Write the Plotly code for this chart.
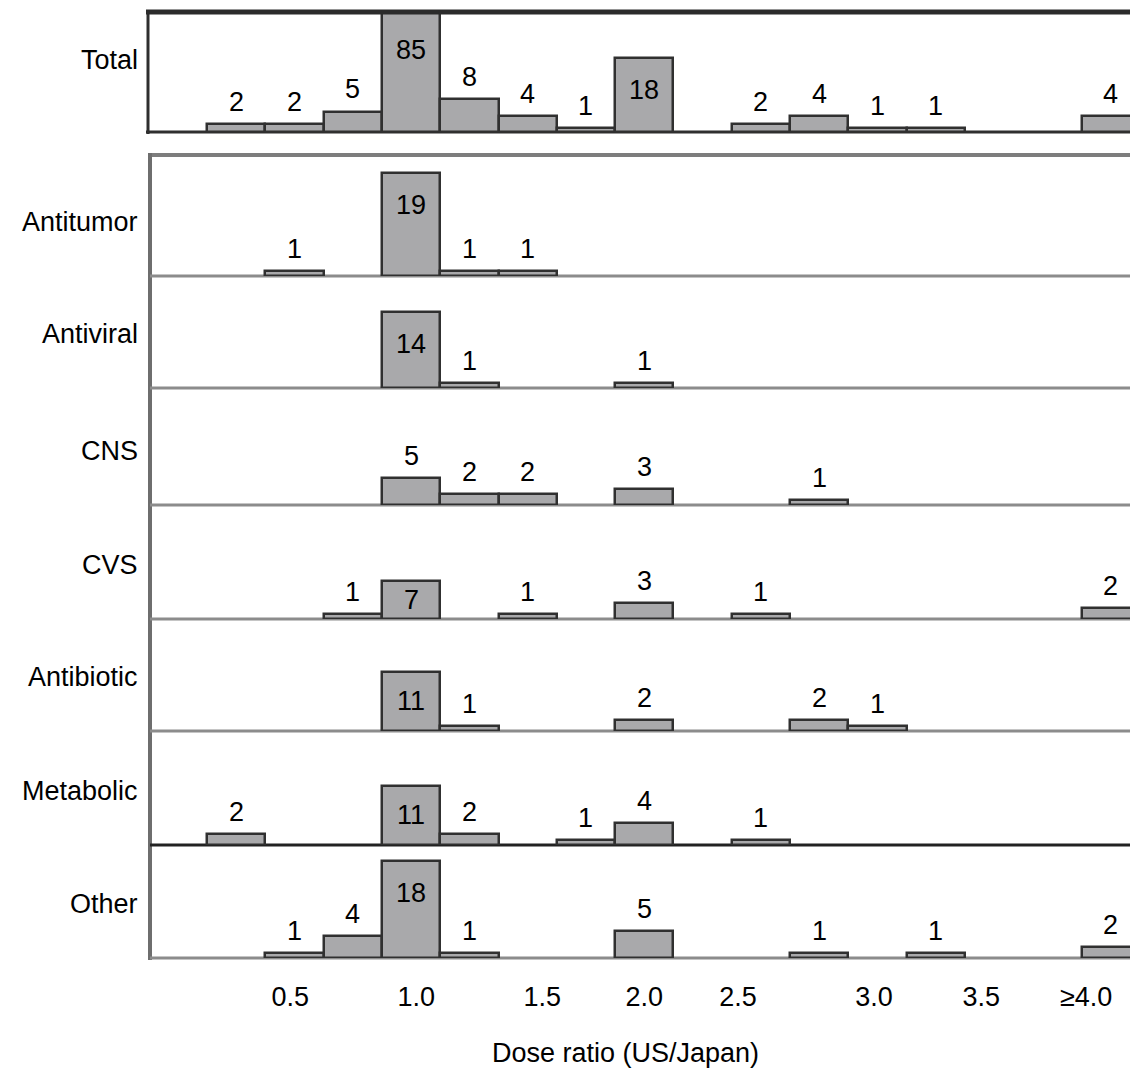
import plotly.graph_objects as go

# ---------------- data ----------------
bin_index = list(range(16))
tick_positions = [0.93, 3.09, 5.25, 7.0, 8.61, 10.94, 12.78, 14.58]
tick_labels = ["0.5", "1.0", "1.5", "2.0", "2.5", "3.0", "3.5", "≥4.0"]

panel_names = ["Total", "Antitumor", "Antiviral", "CNS", "CVS",
               "Antibiotic", "Metabolic", "Other"]
total      = [2, 2, 5, 85, 8, 4, 1, 18, 0, 2, 4, 1, 1, 0, 0, 4]
antitumor  = [0, 1, 0, 19, 1, 1, 0, 0, 0, 0, 0, 0, 0, 0, 0, 0]
antiviral  = [0, 0, 0, 14, 1, 0, 0, 1, 0, 0, 0, 0, 0, 0, 0, 0]
cns        = [0, 0, 0, 5, 2, 2, 0, 3, 0, 0, 1, 0, 0, 0, 0, 0]
cvs        = [0, 0, 1, 7, 0, 1, 0, 3, 0, 1, 0, 0, 0, 0, 0, 2]
antibiotic = [0, 0, 0, 11, 1, 0, 0, 2, 0, 0, 2, 1, 0, 0, 0, 0]
metabolic  = [2, 0, 0, 11, 2, 0, 1, 4, 0, 1, 0, 0, 0, 0, 0, 0]
other      = [0, 1, 4, 18, 1, 0, 0, 5, 0, 0, 1, 0, 1, 0, 0, 2]
series = [total, antitumor, antiviral, cns, cvs, antibiotic, metabolic, other]

# ---------------- layout constants ----------------
W, H = 1130, 1071
L = 150
panel_px = [(12, 132), (155, 276), (276, 388), (388, 505), (505, 619),
            (619, 731), (731, 845), (845, 958)]
px_per_unit = [4.1] + [5.4] * 7
bin_px = 58.3
bin0_center_px = 236.15
x_range = [(L - bin0_center_px) / bin_px, (W - bin0_center_px) / bin_px]

FONT = "Liberation Sans, Arial, Helvetica, sans-serif"
FS = 27
FILL = "#a9a9ab"
EDGE = "#303030"


def py(p):
    return 1 - p / H


def pxx(p):
    return (p - L) / (W - L)


fig = go.Figure()
layout = dict(
    width=W, height=H,
    margin=dict(l=L, r=0, t=0, b=0),
    paper_bgcolor="white", plot_bgcolor="rgba(0,0,0,0)",
    showlegend=False, bargap=0,
    font=dict(family=FONT, size=FS, color="black"),
)

annotations = []
shapes = []

for k, (name, vals) in enumerate(zip(panel_names, series)):
    top, bot = panel_px[k]
    ymax = (bot - top) / px_per_unit[k]
    yname = "yaxis" if k == 0 else f"yaxis{k + 1}"
    yref = "y" if k == 0 else f"y{k + 1}"
    layout[yname] = dict(domain=[py(bot), py(top)], range=[0, ymax],
                         showgrid=False, zeroline=False, showline=False,
                         showticklabels=False, ticks="", fixedrange=True)
    xs = [i for i, v in zip(bin_index, vals) if v > 0]
    ys = [v for v in vals if v > 0]
    fig.add_trace(go.Bar(
        x=xs, y=ys, width=1, xaxis="x", yaxis=yref,
        marker=dict(color=FILL, line=dict(color=EDGE, width=2.5)),
        hoverinfo="x+y",
    ))
    # count labels
    for x, v in zip(xs, ys):
        inside = v / ymax > 0.3
        if inside:
            bar_px = min(v, ymax) * px_per_unit[k]
            shift = 38 if v > ymax else min(32, bar_px / 2)
            annotations.append(dict(
                x=x, y=min(v, ymax), xref="x", yref=yref, text=str(v),
                showarrow=False, yanchor="middle", yshift=-shift,
                font=dict(family=FONT, size=FS, color="black")))
        else:
            annotations.append(dict(
                x=x, y=v, xref="x", yref=yref, text=str(v),
                showarrow=False, yanchor="middle", yshift=22,
                font=dict(family=FONT, size=FS, color="black")))
    # category label
    annotations.append(dict(
        x=pxx(140), xref="paper", xanchor="right",
        y=0, yref=f"{yref} domain", yanchor="middle",
        yshift=72 if k == 0 else 54,
        text=name, showarrow=False,
        font=dict(family=FONT, size=FS, color="black")))

layout["xaxis"] = dict(
    domain=[0, 1], range=x_range, anchor="y8",
    showgrid=False, zeroline=False, showline=False,
    tickmode="array", tickvals=tick_positions, ticktext=tick_labels,
    ticks="outside", ticklen=15, tickcolor="rgba(0,0,0,0)",
    tickfont=dict(family=FONT, size=FS, color="black"), fixedrange=True,
)

annotations.append(dict(
    x=pxx(625), y=py(1053), xref="paper", yref="paper",
    text="Dose ratio (US/Japan)", showarrow=False,
    xanchor="center", yanchor="middle",
    font=dict(family=FONT, size=FS, color="black")))


def hline(p, x0, x1, color, width, layer="below"):
    shapes.append(dict(type="line", xref="paper", yref="paper",
                       x0=pxx(x0), x1=pxx(x1), y0=py(p), y1=py(p),
                       line=dict(color=color, width=width), layer=layer))


def vline(p, y0, y1, color, width, layer="below"):
    shapes.append(dict(type="line", xref="paper", yref="paper",
                       x0=pxx(p), x1=pxx(p), y0=py(y0), y1=py(y1),
                       line=dict(color=color, width=width), layer=layer))


# Total panel frame
hline(12, 146, W, "#2b2b2b", 5, layer="above")
hline(132, 146, W, "#2f2f2f", 3)
vline(148, 10, 134, "#2f2f2f", 3)
# category block frame
hline(155, 148, W, "#7d7d7d", 4)
vline(150, 153, 960, "#6e6e6e", 4)
for k in range(1, 8):
    bot = panel_px[k][1]
    col = "#222222" if panel_names[k] == "Metabolic" else "#8c8c8c"
    hline(bot, 150, W, col, 3)

layout["annotations"] = annotations
layout["shapes"] = shapes
fig.update_layout(**layout)

fig.write_html(
    "out.html",
    config={"displayModeBar": False},
    post_script="document.body.style.margin='0';"
                "document.body.style.overflow='hidden';",
)
